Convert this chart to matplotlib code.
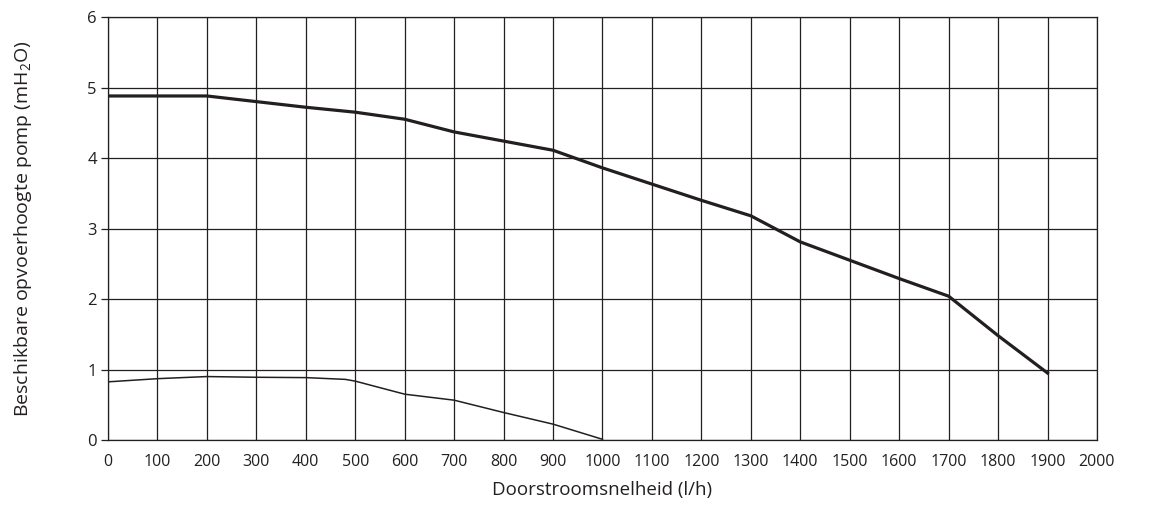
import numpy as np
import matplotlib
matplotlib.use("Agg")
import matplotlib.pyplot as plt

plt.rcParams['font.family'] = ['Open Sans', 'DejaVu Sans']
plt.rcParams['mathtext.default'] = 'regular'

# pompcurve (hoog) en (laag)
flow_high = [0, 200, 300, 400, 500, 600, 700, 800, 900, 1000, 1100, 1200, 1300, 1400, 1500, 1600, 1700, 1800, 1900]
head_high = [4.88, 4.88, 4.80, 4.72, 4.65, 4.55, 4.37, 4.24, 4.11, 3.86, 3.63, 3.40, 3.18, 2.81, 2.55, 2.29, 2.04, 1.48, 0.95]

flow_low = [0, 100, 200, 300, 400, 480, 500, 600, 700, 800, 900, 1000]
head_low = [0.825, 0.87, 0.90, 0.89, 0.885, 0.86, 0.835, 0.65, 0.565, 0.39, 0.225, 0.01]

xticks = np.arange(0, 2001, 100)
yticks = np.arange(0, 7, 1)

fig = plt.figure(figsize=(11.7, 5.05), dpi=100)
ax = fig.add_axes([0.0923, 0.1287, 0.8453, 0.8376])

line_col = '#231f20'
ax.plot(flow_high, head_high, color=line_col, lw=2.3, solid_joinstyle='round')
ax.plot(flow_low, head_low, color=line_col, lw=1.1, solid_joinstyle='round')

ax.set_xlim(0, 2000)
ax.set_ylim(0, 6)
ax.set_xticks(xticks)
ax.set_yticks(yticks)
ax.grid(True, color='#231f20', lw=0.9)
ax.set_axisbelow(True)
for s in ax.spines.values():
    s.set_color('#231f20')
    s.set_linewidth(0.9)

ax.tick_params(axis='x', length=0, pad=10, labelsize=11.5, colors='#231f20')
ax.tick_params(axis='y', length=5, width=0.9, pad=3, labelsize=12, colors='#231f20')

ax.set_xlabel('Doorstroomsnelheid (l/h)', fontsize=13.5, color='#231f20', labelpad=8)
ax.set_ylabel('Beschikbare opvoerhoogte pomp (mH$_2$O)', fontsize=14, color='#231f20', labelpad=38)

fig.savefig('out.png', dpi=100)
